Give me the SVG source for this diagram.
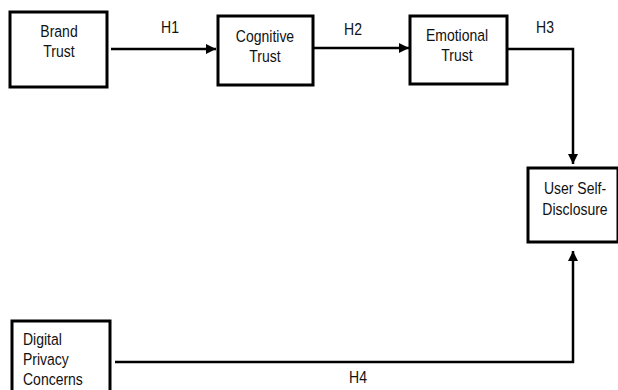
<svg xmlns="http://www.w3.org/2000/svg" width="618" height="390" viewBox="0 0 618 390">
<defs>
<style>
.box{fill:#fff;stroke:#000;stroke-width:3}
.t{font-family:"Liberation Sans",Arial,sans-serif;font-size:14px;fill:#111}
.c{text-anchor:middle}
.ln{fill:none;stroke:#000;stroke-width:2.5}
</style>
<marker id="ah" markerWidth="10" markerHeight="10" viewBox="0 0 10 10" refX="10" refY="5" orient="auto" markerUnits="userSpaceOnUse">
<path d="M0,0 L10,5 L0,10 Z" fill="#000"/>
</marker>
</defs>
<rect width="618" height="390" fill="#fff"/>
<g id="connectors">
<line class="ln" x1="111" y1="49" x2="216" y2="49" marker-end="url(#ah)"/>
<line class="ln" x1="313" y1="48" x2="409" y2="48" marker-end="url(#ah)"/>
<polyline class="ln" points="507,49 573,49 573,164" marker-end="url(#ah)"/>
<polyline class="ln" points="115,362 573,362 573,251" marker-end="url(#ah)"/>
<text class="t c" transform="translate(170,33) scale(1,1.18)">H1</text>
<text class="t c" transform="translate(353,35) scale(1,1.18)">H2</text>
<text class="t c" transform="translate(545,33) scale(1,1.18)">H3</text>
<text class="t c" transform="translate(358,383) scale(1,1.18)">H4</text>
</g>
<g id="brand-trust">
<rect class="box" x="10" y="12" width="97" height="75"/>
<text class="t c" transform="translate(59,37) scale(1,1.18)"><tspan x="0" y="0">Brand</tspan><tspan x="0" dy="17">Trust</tspan></text>
</g>
<g id="cognitive-trust">
<rect class="box" x="218" y="16" width="95" height="69"/>
<text class="t c" transform="translate(265,42) scale(1,1.18)"><tspan x="0" y="0">Cognitive</tspan><tspan x="0" dy="17">Trust</tspan></text>
</g>
<g id="emotional-trust">
<rect class="box" x="410" y="16" width="97" height="68"/>
<text class="t c" transform="translate(457,41) scale(1,1.18)"><tspan x="0" y="0">Emotional</tspan><tspan x="0" dy="17">Trust</tspan></text>
</g>
<g id="user-self-disclosure">
<rect class="box" x="528" y="168" width="90" height="74"/>
<text class="t c" transform="translate(575,194) scale(1,1.18)"><tspan x="0" y="0">User Self-</tspan><tspan x="0" dy="17.5">Disclosure</tspan></text>
</g>
<g id="digital-privacy-concerns">
<rect class="box" x="12" y="321" width="98" height="80"/>
<text class="t" transform="translate(23,345) scale(1,1.18)"><tspan x="0" y="0">Digital</tspan><tspan x="0" dy="17">Privacy</tspan><tspan x="0" dy="17">Concerns</tspan></text>
</g>
</svg>
